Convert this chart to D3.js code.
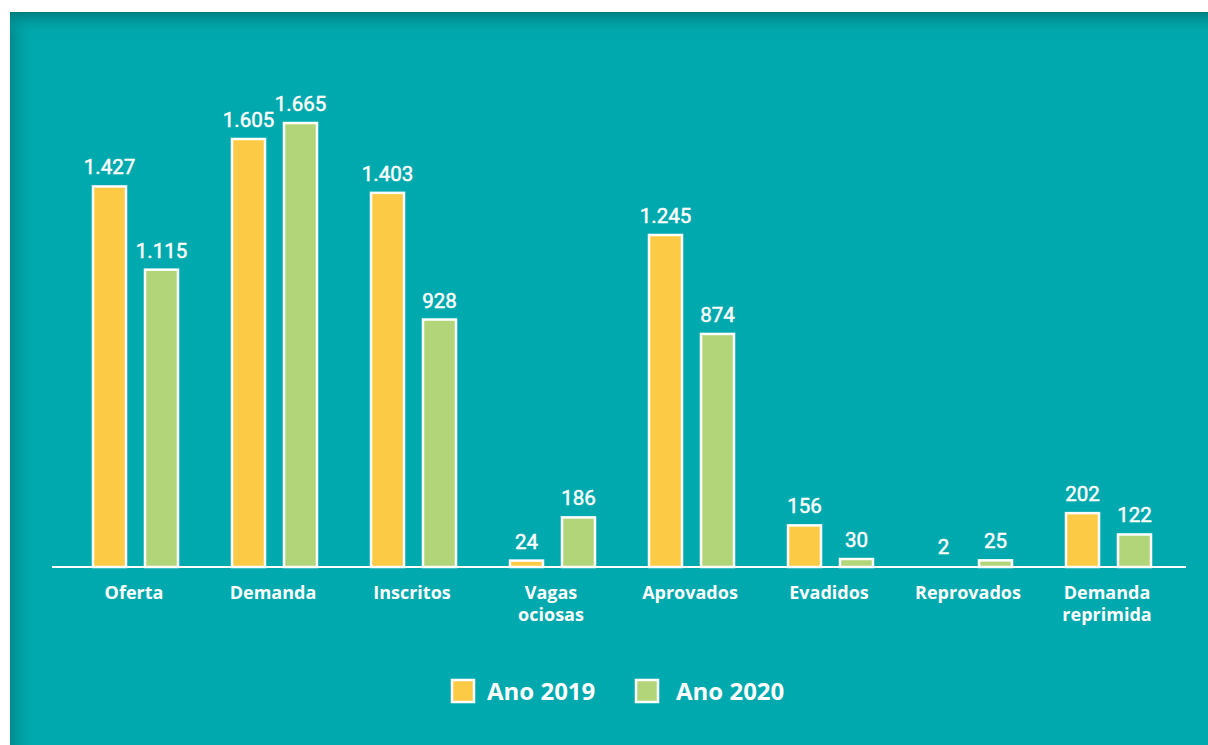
<!DOCTYPE html>
<html>
<head>
<meta charset="utf-8">
<script src="https://cdn.jsdelivr.net/npm/d3@7"></script>
<style>
  body { margin: 0; background: #fff; }
  svg { display: block; }
</style>
</head>
<body>
<div id="chart"></div>
<script>
// data
var categories = [["Oferta"], ["Demanda"], ["Inscritos"], ["Vagas", "ociosas"], ["Aprovados"], ["Evadidos"], ["Reprovados"], ["Demanda", "reprimida"]]
var series = ["Ano 2019", "Ano 2020"]
var values2019 = [1427, 1605, 1403, 24, 1245, 156, 2, 202]
var values2020 = [1115, 1665, 928, 186, 874, 30, 25, 122]
var colors = ["#fdca46", "#b2d57a"]

var width = 1208
var height = 745
var baseline = 567
var font = "Roboto, 'Liberation Sans', sans-serif"
var boldFont = "'Open Sans', Roboto, sans-serif"

var svg = d3.select("#chart").append("svg")
  .attr("width", width)
  .attr("height", height)

var defs = svg.append("defs")
var gTop = defs.append("linearGradient").attr("id", "shadeTop")
  .attr("x1", 0).attr("y1", 0).attr("x2", 0).attr("y2", 1)
gTop.append("stop").attr("offset", "0%").attr("stop-color", "#007e80").attr("stop-opacity", 1)
gTop.append("stop").attr("offset", "100%").attr("stop-color", "#00a9ad").attr("stop-opacity", 0)
var gLeft = defs.append("linearGradient").attr("id", "shadeLeft")
  .attr("x1", 0).attr("y1", 0).attr("x2", 1).attr("y2", 0)
gLeft.append("stop").attr("offset", "0%").attr("stop-color", "#008a8c").attr("stop-opacity", 1)
gLeft.append("stop").attr("offset", "100%").attr("stop-color", "#00a9ad").attr("stop-opacity", 0)

// background panel
svg.append("rect").attr("x", 10).attr("y", 12).attr("width", width - 10).attr("height", height - 12)
  .attr("fill", "#00a9ad")
svg.append("rect").attr("x", 10).attr("y", 12).attr("width", 26).attr("height", height - 12)
  .attr("fill", "url(#shadeLeft)")
svg.append("rect").attr("x", 10).attr("y", 12).attr("width", width - 10).attr("height", 24)
  .attr("fill", "url(#shadeTop)")

// scales
var x = d3.scaleBand()
  .domain(d3.range(categories.length))
  .range([64.5, 1176.5])

var xInner = d3.scaleBand()
  .domain([0, 1])
  .range([28.5, 113.5])
  .paddingInner(0.365)

var y = d3.scaleLinear()
  .domain([0, 1665])
  .range([baseline, 123])

var rows = []
categories.forEach(function(c, i) {
  rows.push({cat: i, s: 0, v: values2019[i]})
  rows.push({cat: i, s: 1, v: values2020[i]})
})

// bars
svg.selectAll(".bar")
  .data(rows.filter(function(d) { return d.v > 5 }))
  .enter().append("rect")
  .attr("class", "bar")
  .attr("x", function(d) { return x(d.cat) + xInner(d.s) })
  .attr("y", function(d) { return y(d.v) })
  .attr("width", xInner.bandwidth())
  .attr("height", function(d) { return baseline - y(d.v) })
  .attr("fill", function(d) { return colors[d.s] })
  .attr("stroke", "#fff")
  .attr("stroke-width", 2.5)

// value labels
svg.selectAll(".val")
  .data(rows)
  .enter().append("text")
  .attr("class", "val")
  .attr("x", function(d) { return x(d.cat) + xInner(d.s) + xInner.bandwidth() / 2 })
  .attr("y", function(d) { return y(d.v) - 12 })
  .attr("text-anchor", "middle")
  .attr("fill", "#fff")
  .attr("stroke", "#fff")
  .attr("stroke-width", 0.5)
  .attr("font-family", font)
  .attr("font-size", 20.5)
  .attr("font-weight", 400)
  .text(function(d) { return d3.format(",")(d.v).replace(/,/g, ".") })

// axis line
svg.append("line")
  .attr("x1", 52).attr("x2", 1186)
  .attr("y1", baseline).attr("y2", baseline)
  .attr("stroke", "#fff").attr("stroke-width", 2)

// category labels
var catText = svg.selectAll(".cat")
  .data(categories)
  .enter().append("text")
  .attr("class", "cat")
  .attr("text-anchor", "middle")
  .attr("fill", "#fff")
  .attr("font-family", boldFont)
  .attr("font-size", 18)
  .attr("font-weight", 700)
catText.selectAll("tspan")
  .data(function(d, i) { return d.map(function(t) { return {t: t, i: i} }) })
  .enter().append("tspan")
  .attr("x", function(d) { return x(d.i) + x.bandwidth() / 2 })
  .attr("y", function(d, j) { return 599 + j * 22 })
  .text(function(d) { return d.t })

// legend
var legendX = [452, 636]
var legend = svg.selectAll(".leg")
  .data(series)
  .enter().append("g")
  .attr("class", "leg")
  .attr("transform", function(d, i) { return "translate(" + legendX[i] + ",680)" })
legend.append("rect")
  .attr("width", 22).attr("height", 22)
  .attr("fill", function(d, i) { return colors[i] })
  .attr("stroke", "#fff").attr("stroke-width", 2.5)
legend.append("text")
  .attr("x", function(d, i) { return i == 0 ? 35 : 40 })
  .attr("y", 20)
  .attr("fill", "#fff")
  .attr("font-family", boldFont)
  .attr("font-size", 24)
  .attr("font-weight", 700)
  .text(function(d) { return d })
</script>
</body>
</html>
